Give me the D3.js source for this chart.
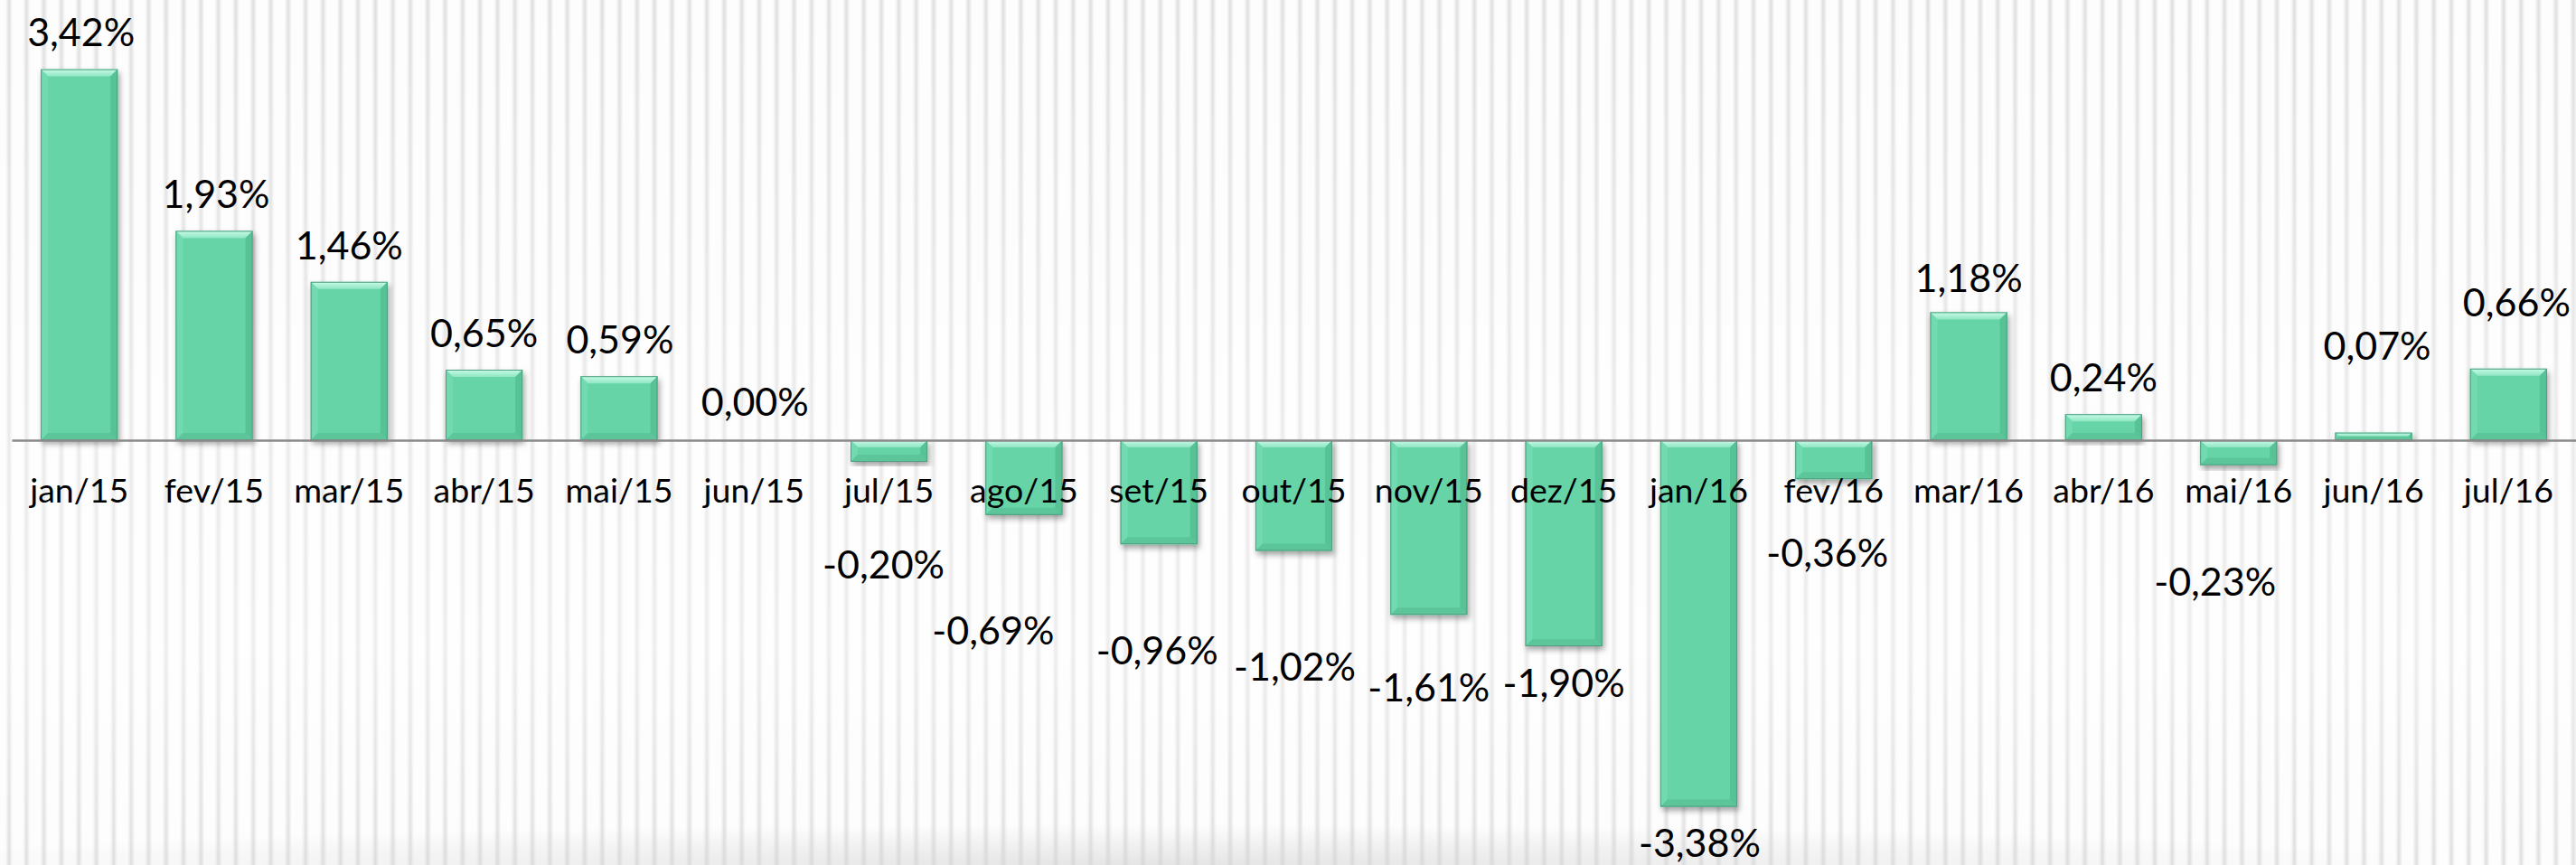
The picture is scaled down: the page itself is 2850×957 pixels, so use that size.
<!DOCTYPE html>
<html>
<head>
<meta charset="utf-8">
<script src="https://cdn.jsdelivr.net/npm/d3@7/dist/d3.min.js"></script>
<style>
  html, body { margin: 0; padding: 0; background: #ffffff; }
  svg { display: block; }
</style>
</head>
<body>
<script>
// ---- data ----
const categories = ["jan/15","fev/15","mar/15","abr/15","mai/15","jun/15","jul/15","ago/15","set/15","out/15","nov/15","dez/15","jan/16","fev/16","mar/16","abr/16","mai/16","jun/16","jul/16"];
const values = [3.42, 1.93, 1.46, 0.65, 0.59, 0.00, -0.20, -0.69, -0.96, -1.02, -1.61, -1.90, -3.38, -0.36, 1.18, 0.24, -0.23, 0.07, 0.66];

// ---- layout (manually dragged label offsets, px) ----
const labelShiftX = [2, 2, 0, 0, 1, 1, -6, -34, -2, 1, 0, 0, 1, -7, 0, 0, -26, 4, 9];
const labelShiftY = [-1, 0, 0, 0, 0, -2, 94, 108, 98, 109, 61, 21, 20, 62, 3, 0, 109, -56, -33];

const W = 2850, H = 957;
const fmt = d3.formatLocale({decimal: ",", thousands: ".", grouping: [3], currency: ["R$", ""], minus: "-"}).format(".2f");

const svg = d3.select("body").append("svg").attr("width", W).attr("height", H);
const defs = svg.append("defs");

// background stripes
const sg = defs.append("linearGradient").attr("id", "stripeG").attr("x1", 0).attr("x2", 1).attr("y1", 0).attr("y2", 0);
sg.append("stop").attr("offset", "0%").attr("stop-color", "#e0e0e0").attr("stop-opacity", 0);
sg.append("stop").attr("offset", "50%").attr("stop-color", "#dedede").attr("stop-opacity", 1);
sg.append("stop").attr("offset", "100%").attr("stop-color", "#e0e0e0").attr("stop-opacity", 0);
const pat = defs.append("pattern").attr("id", "stripes").attr("patternUnits", "userSpaceOnUse")
  .attr("width", 19.3).attr("height", H).attr("x", 6);
pat.append("rect").attr("width", 19.3).attr("height", H).attr("fill", "#fdfdfd");
pat.append("rect").attr("x", 0).attr("width", 8).attr("height", H).attr("fill", "url(#stripeG)");

svg.append("rect").attr("width", W).attr("height", H).attr("fill", "url(#stripes)");

// light horizontal haze in the middle
const haze = defs.append("linearGradient").attr("id", "haze").attr("x1", 0).attr("x2", 0).attr("y1", 0).attr("y2", 1);
haze.append("stop").attr("offset", "0%").attr("stop-color", "#ffffff").attr("stop-opacity", 0.0);
haze.append("stop").attr("offset", "45%").attr("stop-color", "#ffffff").attr("stop-opacity", 0.3);
haze.append("stop").attr("offset", "75%").attr("stop-color", "#ffffff").attr("stop-opacity", 0.4);
haze.append("stop").attr("offset", "100%").attr("stop-color", "#ffffff").attr("stop-opacity", 0.0);
svg.append("rect").attr("width", W).attr("height", H).attr("fill", "url(#haze)");

// soft bottom shadow
const bs = defs.append("radialGradient").attr("id", "bottomShade").attr("cx", 0.45).attr("cy", 1).attr("r", 0.5);
bs.append("stop").attr("offset", "0%").attr("stop-color", "#d4d4d4").attr("stop-opacity", 0.6);
bs.append("stop").attr("offset", "100%").attr("stop-color", "#d4d4d4").attr("stop-opacity", 0);
svg.append("rect").attr("x", 0).attr("y", H - 90).attr("width", W).attr("height", 90)
  .attr("fill", "url(#bottomShade)");

// drop shadow filter
const f = defs.append("filter").attr("id", "shadow").attr("x", "-20%").attr("y", "-20%").attr("width", "140%").attr("height", "140%");
f.append("feDropShadow").attr("dx", 2).attr("dy", 4).attr("stdDeviation", 3)
  .attr("flood-color", "#000").attr("flood-opacity", 0.35);

// top bevel gradient
const tg = defs.append("linearGradient").attr("id", "topBevel").attr("x1", 0).attr("x2", 0).attr("y1", 0).attr("y2", 1);
tg.append("stop").attr("offset", "0%").attr("stop-color", "#c9fbe8");
tg.append("stop").attr("offset", "100%").attr("stop-color", "#8fe6c3");

// ---- scales ----
const x = d3.scaleBand().domain(categories).range([13, 2850]).paddingInner(0.43).paddingOuter(0.215);
const y = d3.scaleLinear().domain([-4, 4]).range([967, 7]);

const data = categories.map((c, i) => ({c, v: values[i], i}));

// ---- bars ----
const bars = svg.append("g").selectAll("g").data(data).join("g").attr("filter", "url(#shadow)");
bars.each(function(d) {
  const g = d3.select(this);
  const x0 = x(d.c), x1 = x(d.c) + x.bandwidth();
  const yt = Math.min(y(d.v), y(0)), yb = Math.max(y(d.v), y(0));
  const h = yb - yt;
  if (h <= 0) return;
  const b = Math.min(8, h / 2, (x1 - x0) / 2);
  g.append("rect").attr("x", x0).attr("y", yt).attr("width", x1 - x0).attr("height", h).attr("fill", "#66d4a7");
  const poly = (pts, fill) => g.append("polygon").attr("points", pts.map(p => p.join(",")).join(" ")).attr("fill", fill);
  poly([[x0, yt], [x1, yt], [x1 - b, yt + b], [x0 + b, yt + b]], "url(#topBevel)");
  poly([[x0, yt], [x0 + b, yt + b], [x0 + b, yb - b], [x0, yb]], "#72dab0");
  poly([[x1, yt], [x1, yb], [x1 - b, yb - b], [x1 - b, yt + b]], "#58c297");
  poly([[x0, yb], [x1, yb], [x1 - b, yb - b], [x0 + b, yb - b]], "#5cc59a");
  g.append("rect").attr("x", x0 + 0.5).attr("y", yt + 0.5).attr("width", x1 - x0 - 1).attr("height", Math.max(0, h - 1))
    .attr("fill", "none").attr("stroke", "#4f9f80").attr("stroke-width", 1);
});

// ---- axis ----
const axis = svg.append("g").attr("transform", `translate(0,${y(0)})`)
  .call(d3.axisBottom(x).tickSize(0).tickSizeOuter(0).tickPadding(42));
axis.select(".domain").attr("stroke", "#8a8a8a").attr("stroke-width", 2.5);
axis.selectAll("text").attr("font-family", "Lato, 'Open Sans', sans-serif").attr("font-size", 37.5).attr("fill", "#000");

// ---- value labels ----
svg.append("g").selectAll("text").data(data).join("text")
  .attr("x", d => x(d.c) + x.bandwidth() / 2 + labelShiftX[d.i])
  .attr("y", d => (d.v >= 0 ? y(d.v) - 25 : y(d.v) + 35) + labelShiftY[d.i])
  .attr("text-anchor", "middle")
  .attr("font-family", "Lato, 'Open Sans', sans-serif")
  .attr("font-size", 43)
  .attr("fill", "#000")
  .text(d => fmt(d.v) + "%");
</script>
</body>
</html>
